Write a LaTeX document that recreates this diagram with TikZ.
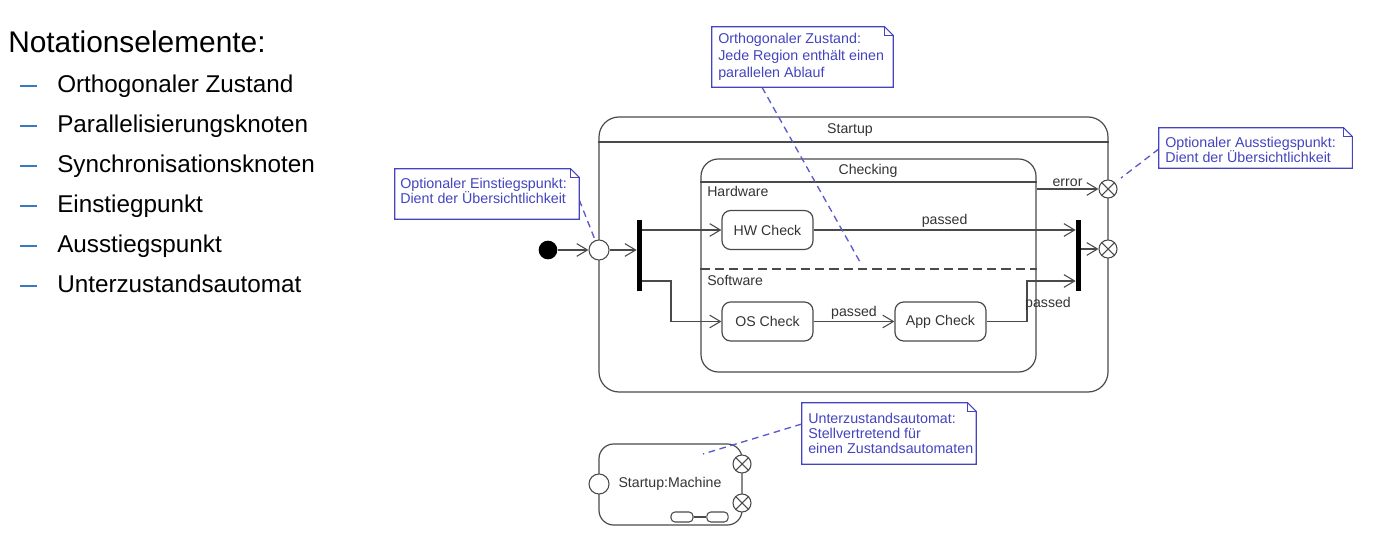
\documentclass[tikz,border=0pt]{standalone}
\usepackage{fontspec}
\setmainfont{Liberation Sans}
\usetikzlibrary{arrows.meta,fit,calc}
\definecolor{ln}{HTML}{4A4A4A}
\definecolor{tx}{HTML}{333333}
\definecolor{nb}{HTML}{4444C0}
\definecolor{nc}{HTML}{5A5ACC}
\definecolor{db}{HTML}{3A78C2}
\newcommand\drawnote[1]{%
  \draw[draw=nb, line width=0.8pt, fill=white] (#1.north west) -- ([xshift=-6.5pt]#1.north east) -- ([yshift=-6.5pt]#1.north east) -- (#1.south east) -- (#1.south west) -- cycle;
  \draw[nb, line width=0.8pt] ([xshift=-6.5pt]#1.north east) -- ([xshift=-6.5pt,yshift=-6.5pt]#1.north east) -- ([yshift=-6.5pt]#1.north east);}
\begin{document}
\begin{tikzpicture}[x=0.75pt,y=-0.75pt,
  frame/.style={draw=ln, line width=0.9pt, inner sep=0pt},
  lbl/.style={text=tx, font=\fontsize{10.6}{12}\selectfont, inner sep=1.5pt},
  st/.style={draw=ln, line width=0.9pt, rounded corners=6.5pt, fill=white, minimum width=68.25pt, minimum height=29.25pt, inner sep=0pt, text=tx, font=\fontsize{10.6}{12}\selectfont},
  arr/.style={draw=ln, line width=0.8pt, -{Straight Barb[length=8pt,width=9.5pt]}},
  bar/.style={fill=black, draw=none, minimum width=3.9pt, minimum height=53.25pt, inner sep=0pt},
  entrypt/.style={circle, draw=ln, fill=white, line width=0.8pt, minimum size=15pt, inner sep=0pt},
  exitpt/.style={circle, draw=ln, fill=white, line width=0.8pt, minimum size=13.5pt, inner sep=0pt},
  notearea/.style={inner sep=0pt},
  notetxt/.style={text=nb, font=\fontsize{10.7}{11.25}\selectfont, align=left, inner sep=0pt, anchor=north west},
  conn/.style={draw=nc, line width=1pt, dash pattern=on 5pt off 3.5pt},
  item/.style={anchor=base west, inner sep=0pt, font=\fontsize{18.2}{22}\selectfont, text=black},
  dashmark/.style={draw=db, line width=1.6pt}
]
\useasboundingbox (0,0) rectangle (1373,538);

% ---------- left list ----------
\node[anchor=base west, inner sep=0pt, font=\fontsize{22.4}{26}\selectfont] (head) at (8,53) {Notationselemente:};
\foreach \t [count=\i from 0] in {Orthogonaler Zustand,Parallelisierungsknoten,Synchronisationsknoten,Einstiegpunkt,Ausstiegspunkt,Unterzustandsautomat}{
  \node[item] (it\i) at (57,{92.7+40*\i}) {\t};
  \draw[dashmark] (20,{85.7+40*\i}) -- (36.5,{85.7+40*\i});
}

% ---------- Startup composite state ----------
\node[fit={(599,117) (1108,392)}, frame, rounded corners=15pt] (startup) {};
\draw[ln, line width=0.9pt] (startup.west |- 0,142) -- (startup.east |- 0,142);
\node[lbl] (startuplbl) at (850,130) {Startup};

\node[fit={(701,159) (1036,372)}, frame, rounded corners=13pt] (checking) {};
\draw[ln, line width=0.9pt] (checking.west |- 0,182) -- (checking.east |- 0,182);
\node[lbl] (checkinglbl) at (868,171) {Checking};
\node[lbl, anchor=base west] (hwlbl) at (705,197) {Hardware};
\draw[ln, line width=0.9pt, dash pattern=on 7pt off 3.75pt] (checking.west |- 0,269) -- (checking.east |- 0,269);
\node[lbl, anchor=base west] (swlbl) at (705,285) {Software};

\node[st] (hw) at (767.5,230) {HW Check};
\node[st] (os) at (767.5,321.5) {OS Check};
\node[st] (app) at (940.5,321.5) {App Check};

\node[bar] (fork) at (639.5,255.5) {};
\node[bar] (join) at (1078.5,255.5) {};

\node[circle, fill=black, minimum size=14pt, inner sep=0pt] (init) at (548,250) {};
\node[entrypt] (entry) at (599,250) {};
\node[exitpt] (ex1) at (1108,189) {};
\node[exitpt] (ex2) at (1108,249) {};
\foreach \n in {ex1,ex2}{\draw[ln, line width=0.8pt] (\n.45) -- (\n.225) (\n.135) -- (\n.315);}

% transitions
\draw[arr] (init) -- (entry);
\draw[arr] (entry) -- (entry -| fork.west);
\draw[arr] (fork.east |- hw) -- (hw);
\coordinate (f2) at (fork.east |- 0,281);
\draw[arr] (f2) -- (671,281) |- (os.west);
\draw[arr] (hw) -- (hw -| join.west) node[lbl, midway, above] {passed};
\draw[arr] (os) -- (app) node[lbl, midway, above] {passed};
\coordinate (j2) at (join.west |- 0,281);
\draw[arr] (app) -- (1027,321.5) |- (j2);
\node[lbl] (p3) at (1048,304) {passed};
\draw[arr] (checking.east |- ex1) -- (ex1) node[lbl, midway, above] {error};
\draw[arr] (join.east |- ex2) -- (ex2);

% ---------- submachine state ----------
\node[fit={(599,444) (742,525)}, frame, rounded corners=11pt] (sm) {};
\node[lbl] (smlbl) at (670,484) {Startup:Machine};
\node[entrypt] (smentry) at (599,484) {};
\node[exitpt] (smx1) at (742,464) {};
\node[exitpt] (smx2) at (742,503) {};
\foreach \n in {smx1,smx2}{\draw[ln, line width=0.8pt] (\n.45) -- (\n.225) (\n.135) -- (\n.315);}
\node[draw=ln, line width=0.8pt, rounded corners=3pt, minimum width=16.5pt, minimum height=7.5pt, inner sep=0pt] (ic1) at (682,517) {};
\node[draw=ln, line width=0.8pt, rounded corners=3pt, minimum width=16pt, minimum height=7.5pt, inner sep=0pt] (ic2) at (717.5,517) {};
\draw[ln, line width=0.8pt] (ic1) -- (ic2);

% ---------- notes ----------
\node[fit={(712,27) (893,87)}, notearea] (n1) {};
\node[fit={(395,169) (579,219)}, notearea] (n2) {};
\node[fit={(1159,128) (1352,168)}, notearea] (n3) {};
\node[fit={(802,403) (976,464)}, notearea] (n4) {};

\coordinate (c1) at (860,262);
\coordinate (c3) at (1121,178);
\coordinate (c4) at (703,454);
\draw[conn] (n1.south -| 762,0) -- (c1);
\draw[conn] (n2.east |- 0,200) -- (entry);
\draw[conn] (n3.west |- 0,149) -- (c3);
\draw[conn] (n4.west |- 0,424) -- (c4);

\drawnote{n1}
\drawnote{n2}
\drawnote{n3}
\drawnote{n4}
\node[notetxt, font=\fontsize{10.7}{13}\selectfont] (t1) at (718,32.5) {Orthogonaler Zustand:\\Jede Region enthält einen\\parallelen Ablauf};
\node[notetxt] (t2) at (400,177.5) {Optionaler Einstiegspunkt:\\Dient der Übersichtlichkeit};
\node[notetxt] (t3) at (1165,136.5) {Optionaler Ausstiegspunkt:\\Dient der Übersichtlichkeit};
\node[notetxt] (t4) at (808,412.5) {Unterzustandsautomat:\\Stellvertretend für\\einen Zustandsautomaten};
\end{tikzpicture}
\end{document}
